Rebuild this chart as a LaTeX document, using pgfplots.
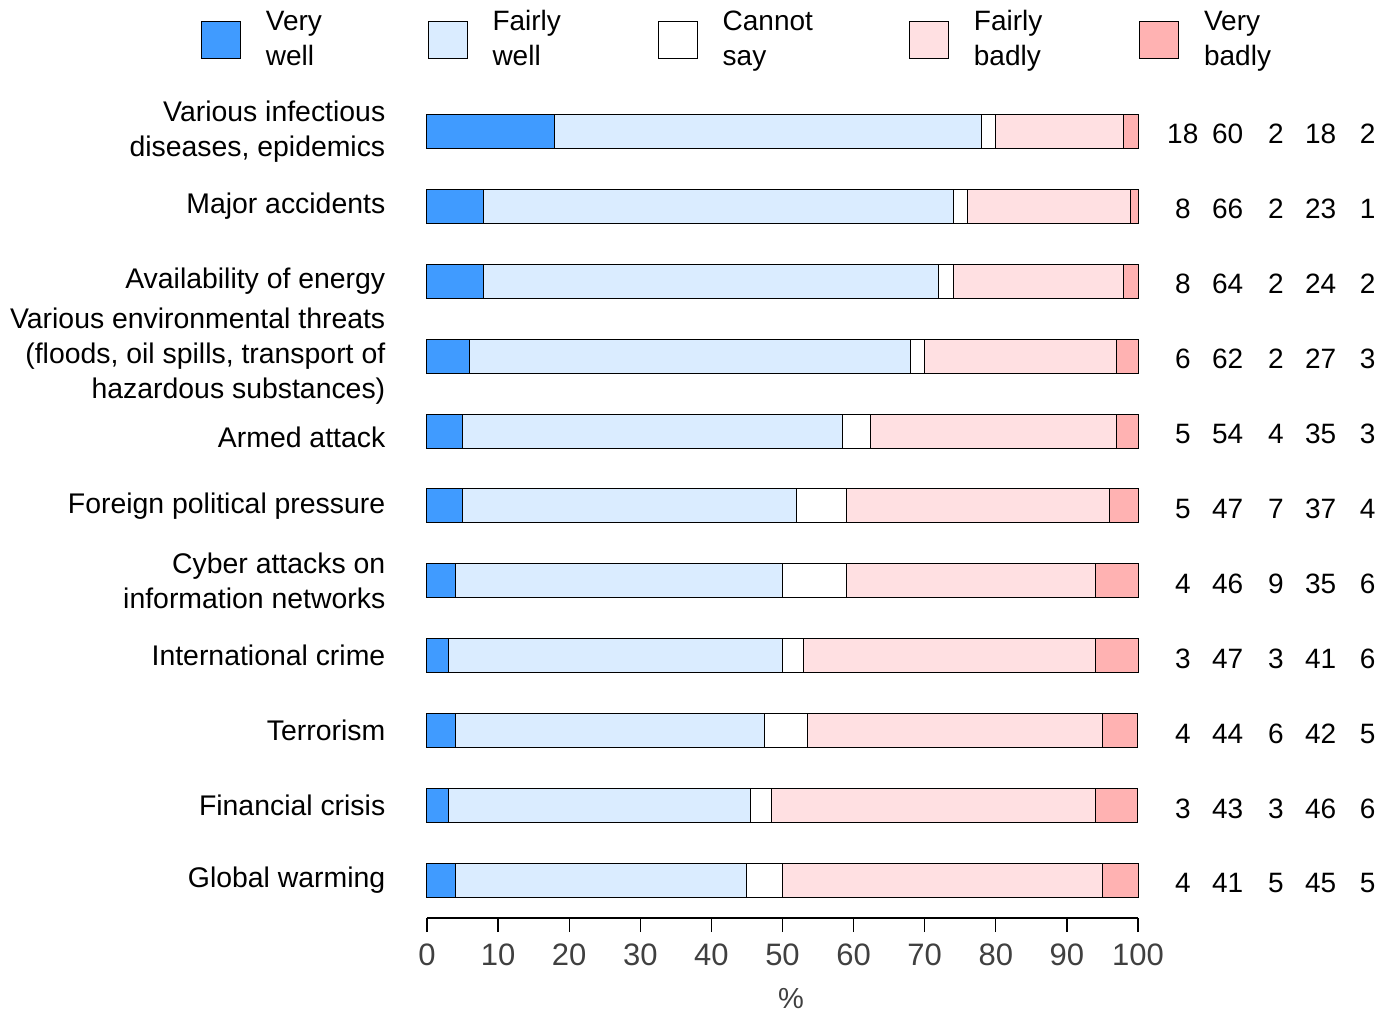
\documentclass[border=0pt]{standalone}
\usepackage{fontspec}
\setmainfont{Liberation Sans}
\usepackage{pgfplots}
\pgfplotsset{compat=1.18}
\usepackage{pgfplotstable}
\definecolor{vw}{RGB}{64,155,255}
\definecolor{fw}{RGB}{218,236,255}
\definecolor{fb}{RGB}{255,224,226}
\definecolor{vb}{RGB}{255,178,178}
\definecolor{tickgrey}{RGB}{64,64,64}

% bar segments (shares of each row's total, in %)
\pgfplotstableread{
y  vw    fw     cs    fb     vb
10 18    60     2     18     2
9  8     66     2     23     1
8  8     64     2     24     2
7  6     62     2     27     3
6  4.95  53.47  3.96  34.65  2.97
5  5     47     7     37     4
4  4     46     9     35     6
3  3     47     3     41     6
2  3.96  43.56  5.94  41.58  4.95
1  2.97  42.57  2.97  45.54  5.94
0  4     41     5     45     5
}\bars

\newcommand\rowlabels[6]{%
  \node[anchor=base,yshift=-6.2pt] at (axis cs:106.3,#1) {#2};
  \node[anchor=base,yshift=-6.2pt] at (axis cs:112.6,#1) {#3};
  \node[anchor=base,yshift=-6.2pt] at (axis cs:119.4,#1) {#4};
  \node[anchor=base,yshift=-6.2pt] at (axis cs:125.7,#1) {#5};
  \node[anchor=base,yshift=-6.2pt] at (axis cs:132.3,#1) {#6};
}

\begin{document}
\fontsize{14}{17.5}\selectfont
\begin{tikzpicture}
\begin{axis}[
  name=ax,
  scale only axis,
  width=355.5pt, height=412pt,
  xmin=0, xmax=100, ymin=-0.5, ymax=10.5,
  xbar stacked, bar width=17pt,
  clip=false,
  axis x line*=bottom, axis y line*=left,
  y axis line style={draw=none},
  x axis line style={line width=1.2pt,-},
  tick align=outside, major tick length=7pt,
  xtick={0,10,...,100},
  xtick style={line width=0.6pt, black},
  ytick={0,1,2,3,4,5,7,8,9,10},
  ytick style={draw=none},
  yticklabels={Global warming, Financial crisis, Terrorism, International crime,
    {Cyber attacks on\\information networks}, Foreign political pressure,
    {Various environmental threats\\(floods, oil spills, transport of\\hazardous substances)},
    Availability of energy, Major accidents, {Various infectious\\diseases, epidemics}},
  extra y ticks={6},
  extra y tick labels={Armed attack},
  extra y tick style={yticklabel style={yshift=-3pt}},
  yticklabel style={align=right, font=\fontsize{14.2}{17.7}\selectfont, xshift=-9pt, text=black},
  xticklabel style={font=\fontsize{15.5}{18}\selectfont, text=tickgrey, yshift=-1pt},
  /pgf/number format/assume math mode=true,
  xlabel={\%},
  xlabel style={at={(axis description cs:0.5,0)}, anchor=center, yshift=-40.5pt, xshift=4.25pt,
    text=tickgrey, font=\fontsize{14.5}{17.5}\selectfont},
  legend columns=5,
  legend style={draw=none, fill=none, inner sep=0pt, outer sep=0pt,
    at={(-0.318,1.065)}, anchor=west, cells={align=left},
    font=\fontsize{14}{17.5}\selectfont,
    /tikz/every odd column/.append style={column sep=10.5pt},
    /tikz/every even column/.append style={column sep=44pt}},
  leg/.style={legend image code/.code={\draw[##1,line width=0.5pt] (0pt,-9.25pt) rectangle (19.5pt,9.25pt);}},
]
\addplot[fill=vw, draw=black, line width=0.5pt, leg] table[x=vw, y=y] {\bars};
\addlegendentry{\makebox[34.8pt][l]{Very}\\well}
\addplot[fill=fw, draw=black, line width=0.5pt, leg] table[x=fw, y=y] {\bars};
\addlegendentry{\makebox[36.6pt][l]{Fairly}\\well}
\addplot[fill=white, draw=black, line width=0.5pt, leg] table[x=cs, y=y] {\bars};
\addlegendentry{\makebox[47.1pt][l]{Cannot}\\say}
\addplot[fill=fb, draw=black, line width=0.5pt, leg] table[x=fb, y=y] {\bars};
\addlegendentry{\makebox[36.6pt][l]{Fairly}\\badly}
\addplot[fill=vb, draw=black, line width=0.5pt, leg] table[x=vb, y=y] {\bars};
\addlegendentry{Very\\badly}

\begingroup
\fontsize{15}{18}\selectfont
\rowlabels{10}{18}{60}{2}{18}{2}
\rowlabels{9}{8}{66}{2}{23}{1}
\rowlabels{8}{8}{64}{2}{24}{2}
\rowlabels{7}{6}{62}{2}{27}{3}
\rowlabels{6}{5}{54}{4}{35}{3}
\rowlabels{5}{5}{47}{7}{37}{4}
\rowlabels{4}{4}{46}{9}{35}{6}
\rowlabels{3}{3}{47}{3}{41}{6}
\rowlabels{2}{4}{44}{6}{42}{5}
\rowlabels{1}{3}{43}{3}{46}{6}
\rowlabels{0}{4}{41}{5}{45}{5}
\endgroup
\end{axis}
\pgfresetboundingbox
\path[use as bounding box] ([xshift=-213.5pt,yshift=-49.5pt]ax.south west) rectangle ([xshift=129pt,yshift=47pt]ax.north east);
\end{tikzpicture}
\end{document}
